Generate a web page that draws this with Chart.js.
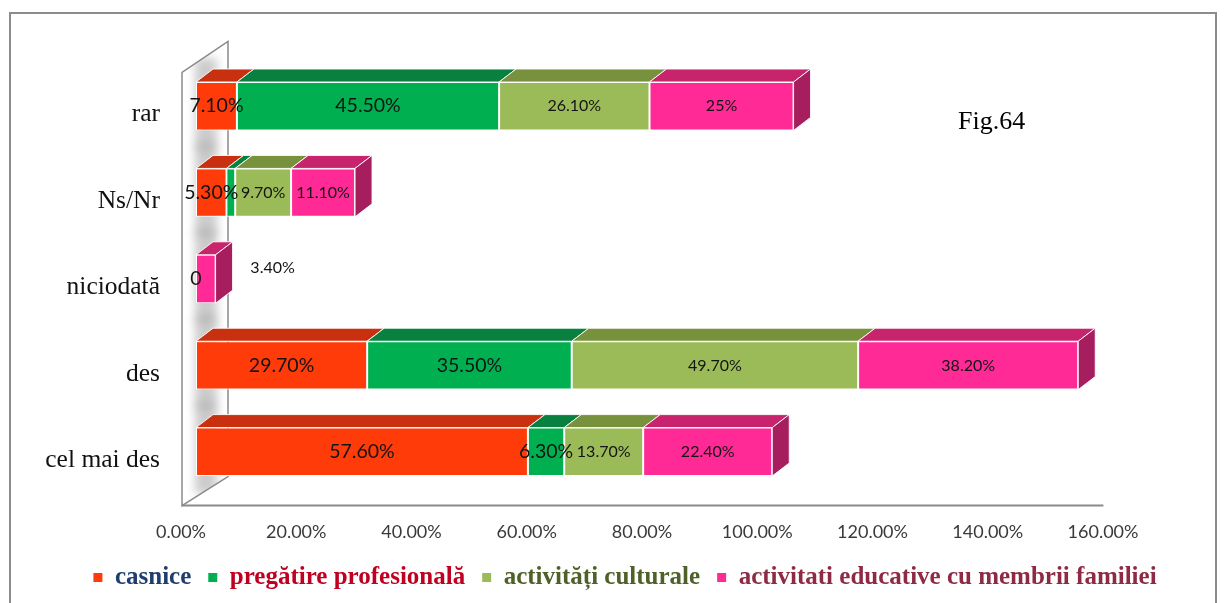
<!DOCTYPE html>
<html>
<head>
<meta charset="utf-8">
<script src="https://cdn.jsdelivr.net/npm/chart.js@4"></script>
<style>
  html, body { margin: 0; padding: 0; background: #fff; }
</style>
</head>
<body>
<canvas id="fig64" width="1224" height="603"></canvas>
<script>
// ---- data ----
const categories = ['rar', 'Ns/Nr', 'niciodată', 'des', 'cel mai des'];
const seriesNames = ['casnice', 'pregătire profesională', 'activități culturale', 'activitati educative cu membrii familiei'];
const casnice   = [7.1, 5.3, 0, 29.7, 57.6];
const pregatire = [45.5, 1.5, 0, 35.5, 6.3];
const culturale = [26.1, 9.7, 0, 49.7, 13.7];
const educative = [25, 11.1, 3.4, 38.2, 22.4];
const xTicks = [0, 20, 40, 60, 80, 100, 120, 140, 160];

// ---- look ----
const frontColors  = ['#ff3b0a', '#00b050', '#9bbb59', '#ff2a96'];
const topColors    = ['#c8300f', '#08803f', '#78913c', '#c8246e'];
const sideColor    = '#a61e5e';
const legendColors = ['#1f3d6e', '#c00020', '#4e6128', '#8e2a45'];
const DX = 17, DY = -13;          // depth of the bars
const LEGEND_CENTER = 625;

const fmt = v => v === 0 ? '0' : (Number.isInteger(v) ? v : v.toFixed(2)) + '%';

function barBox(bar) {
    const p = bar.getProps(['x', 'y', 'base', 'height'], true);
    const left = Math.min(p.x, p.base), right = Math.max(p.x, p.base);
    return { left, right, top: p.y - p.height / 2, bottom: p.y + p.height / 2, y: p.y, h: p.height };
}

// side wall, floor edge, top and side faces of the bars
const depthPlugin = {
    id: 'depth',
    beforeDraw(chart) {
        const ctx = chart.ctx;
        ctx.save();
        ctx.strokeStyle = '#8c8c8c';
        ctx.lineWidth = 2;
        ctx.strokeRect(10, 13, 1206, 640);
        ctx.restore();
    },
    beforeDatasetsDraw(chart) {
        const ctx = chart.ctx, ca = chart.chartArea, xs = chart.scales.x;
        const x0 = xs.getPixelForValue(0);
        const fx = x0 - 14, bx = x0 + 32;
        const yTf = ca.top + 9.4, yTb = ca.top - 21.6, yBf = ca.bottom + 10.6, yBb = ca.bottom - 18.4;

        ctx.save();
        ctx.beginPath();
        ctx.moveTo(fx, yBf); ctx.lineTo(fx, yTf); ctx.lineTo(bx, yTb); ctx.lineTo(bx, yBb); ctx.closePath();
        ctx.fillStyle = '#fff';
        ctx.fill();
        // soft shadows of the bars on the wall
        ctx.save();
        ctx.clip();
        ctx.filter = 'blur(5px)';
        ctx.fillStyle = 'rgba(0,0,0,0.2)';
        chart.getDatasetMeta(0).data.forEach(bar => {
            const b = barBox(bar);
            ctx.fillRect(x0 - 1, b.top - 24, 22, b.h + 42);
        });
        ctx.restore();
        ctx.strokeStyle = '#8a8a8a';
        ctx.lineWidth = 1.5;
        ctx.stroke();
        // floor front edge
        ctx.beginPath();
        ctx.moveTo(fx, yBf);
        ctx.lineTo(xs.getPixelForValue(160) - 14.6, yBf);
        ctx.lineWidth = 2;
        ctx.stroke();

        // top faces
        chart.data.datasets.forEach((ds, i) => {
            chart.getDatasetMeta(i).data.forEach((bar, j) => {
                if (!ds.data[j]) return;
                const b = barBox(bar);
                ctx.beginPath();
                ctx.moveTo(b.left, b.top);
                ctx.lineTo(b.right, b.top);
                ctx.lineTo(b.right + DX, b.top + DY);
                ctx.lineTo(b.left + DX, b.top + DY);
                ctx.closePath();
                ctx.fillStyle = topColors[i];
                ctx.fill();
                ctx.strokeStyle = 'rgba(255,255,255,0.9)';
                ctx.lineWidth = 1;
                ctx.stroke();
            });
        });
        ctx.restore();
    },
    afterDatasetsDraw(chart) {
        const ctx = chart.ctx;
        const sets = chart.data.datasets;
        ctx.save();
        // right side face on the last segment of every row
        categories.forEach((c, j) => {
            let last = -1;
            sets.forEach((ds, i) => { if (ds.data[j]) last = i; });
            if (last < 0) return;
            const b = barBox(chart.getDatasetMeta(last).data[j]);
            ctx.beginPath();
            ctx.moveTo(b.right, b.top);
            ctx.lineTo(b.right + DX, b.top + DY);
            ctx.lineTo(b.right + DX, b.bottom + DY);
            ctx.lineTo(b.right, b.bottom);
            ctx.closePath();
            ctx.fillStyle = last === 3 ? sideColor : topColors[last];
            ctx.fill();
            ctx.strokeStyle = 'rgba(255,255,255,0.9)';
            ctx.lineWidth = 1;
            ctx.stroke();
        });

        // value labels
        ctx.textAlign = 'center';
        ctx.textBaseline = 'middle';
        ctx.fillStyle = '#141414';
        sets.forEach((ds, i) => {
            ctx.font = (i < 2 ? 19.5 : 16) + 'px Lato';
            chart.getDatasetMeta(i).data.forEach((bar, j) => {
                const v = ds.data[j];
                if (v === 0 && i > 0) return;
                if (v > 0 && v < 2) return;
                const b = barBox(bar);
                const txt = fmt(v);
                const isLast = sets.every((s, k) => k <= i || !s.data[j]);
                let cx = (b.left + b.right) / 2, cy = b.y;
                if (v > 0 && isLast && ctx.measureText(txt).width > b.right - b.left) {
                    cx = b.right + DX + 40;
                    cy = b.y - 11;
                }
                ctx.fillText(txt, cx, cy);
            });
        });
        ctx.restore();
    },
    afterLayout(chart) {
        const lg = chart.legend;
        const shift = LEGEND_CENTER - (lg.left + lg.right) / 2;
        lg.left += shift;
        lg.right += shift;
    },
    afterDraw(chart) {
        const ctx = chart.ctx;
        ctx.save();
        ctx.font = '26px "Liberation Serif"';
        ctx.fillStyle = '#000';
        ctx.textBaseline = 'middle';
        ctx.fillText('Fig.64', 958, 122);
        ctx.restore();
    }
};

const seriesValues = [casnice, pregatire, culturale, educative];

new Chart(document.getElementById('fig64'), {
    type: 'bar',
    data: {
        labels: categories,
        datasets: seriesValues.map((vals, i) => ({
            label: seriesNames[i],
            data: vals,
            backgroundColor: frontColors[i],
            borderColor: '#ffffff',
            borderWidth: 1,
            borderSkipped: false,
            barPercentage: 0.56,
            categoryPercentage: 1
        }))
    },
    options: {
        indexAxis: 'y',
        responsive: false,
        animation: false,
        devicePixelRatio: 1,
        layout: { padding: { top: 63, right: 106, bottom: 3, left: 0 } },
        scales: {
            x: {
                stacked: true,
                min: 0,
                max: 160,
                grid: { display: false, drawTicks: false },
                border: { display: false },
                afterBuildTicks: s => { s.ticks = xTicks.map(v => ({ value: v })); },
                afterFit: s => { s.height = 53; },
                ticks: {
                    labelOffset: -15,
                    padding: 26,
                    color: '#3a3a3a',
                    font: { family: 'Lato', size: 18 },
                    callback: v => v.toFixed(2) + '%'
                }
            },
            y: {
                stacked: true,
                grid: { display: false, drawTicks: false },
                border: { display: false },
                afterFit: s => { s.width = 196; },
                ticks: {
                    padding: 36,
                    labelOffset: 8.5,
                    color: '#111',
                    font: { family: 'Liberation Serif', size: 25.5 }
                }
            }
        },
        plugins: {
            tooltip: { enabled: false },
            legend: {
                position: 'bottom',
                labels: {
                    boxWidth: 9,
                    boxHeight: 9,
                    padding: 17,
                    font: { family: 'Liberation Serif', size: 25, weight: 'bold' },
                    generateLabels: chart => chart.data.datasets.map((ds, i) => ({
                        text: ds.label,
                        fillStyle: frontColors[i],
                        strokeStyle: frontColors[i],
                        lineWidth: 0,
                        fontColor: legendColors[i],
                        hidden: false,
                        datasetIndex: i
                    }))
                }
            }
        }
    },
    plugins: [depthPlugin]
});
</script>
</body>
</html>
